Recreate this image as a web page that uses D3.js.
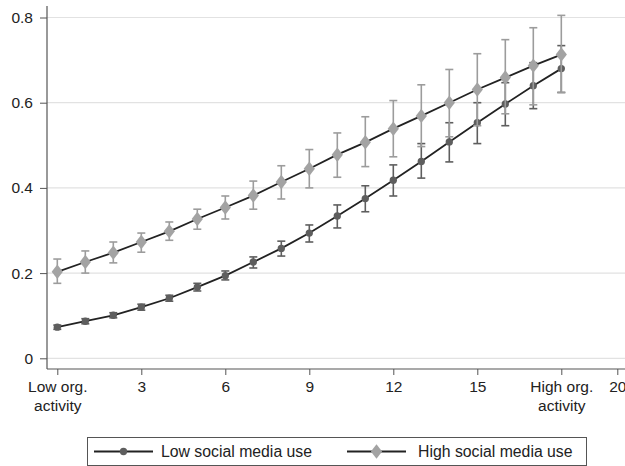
<!DOCTYPE html>
<html>
<head>
<meta charset="utf-8">
<script src="https://cdn.jsdelivr.net/npm/d3@7"></script>
<style>
  body { margin: 0; background: #fff; }
  svg { display: block; font-family: "Liberation Sans", Arial, sans-serif; }
</style>
</head>
<body>
<div id="chart"></div>
<script>
// org. activity levels 0..18
var activity = d3.range(0, 19);

// low social media use: estimate, lower CI, upper CI
var lowEst = [0.073, 0.087, 0.101, 0.120, 0.141, 0.167, 0.194, 0.226, 0.258, 0.294, 0.334, 0.375, 0.418, 0.462, 0.508, 0.553, 0.597, 0.640, 0.680];
var lowLo  = [0.068, 0.081, 0.095, 0.113, 0.134, 0.158, 0.184, 0.212, 0.240, 0.273, 0.306, 0.344, 0.381, 0.423, 0.461, 0.504, 0.546, 0.586, 0.624];
var lowHi  = [0.078, 0.093, 0.107, 0.127, 0.148, 0.176, 0.205, 0.238, 0.275, 0.313, 0.360, 0.405, 0.454, 0.504, 0.553, 0.600, 0.647, 0.694, 0.734];

// high social media use
var highEst = [0.203, 0.226, 0.248, 0.273, 0.298, 0.327, 0.354, 0.382, 0.414, 0.445, 0.478, 0.507, 0.539, 0.569, 0.600, 0.631, 0.659, 0.687, 0.713];
var highLo  = [0.176, 0.200, 0.224, 0.249, 0.277, 0.303, 0.327, 0.350, 0.374, 0.400, 0.425, 0.450, 0.473, 0.497, 0.520, 0.546, 0.574, 0.595, 0.624];
var highHi  = [0.233, 0.252, 0.273, 0.294, 0.320, 0.350, 0.381, 0.416, 0.452, 0.490, 0.529, 0.567, 0.605, 0.642, 0.678, 0.715, 0.748, 0.776, 0.805];

var xTicks = [0, 3, 6, 9, 12, 15, 18, 20];
var xTickLabels = {0: ["Low org.", "activity"], 18: ["High org.", "activity"]};
var yTicks = [0, 0.2, 0.4, 0.6, 0.8];
var seriesNames = ["Low social media use", "High social media use"];

var W = 625, H = 466;
var svg = d3.select("#chart").append("svg")
  .attr("width", W)
  .attr("height", H);

var x = d3.scaleLinear().domain([0, 20]).range([57.3, 617.3]);
var y = d3.scaleLinear().domain([0, 0.8]).range([358.3, 17.5]);

var axisX0 = 47, axisY0 = 369;

// gridlines
svg.append("g")
  .selectAll("line")
  .data(yTicks)
  .enter()
  .append("line")
  .attr("x1", axisX0)
  .attr("x2", W)
  .attr("y1", function (d) { return y(d); })
  .attr("y2", function (d) { return y(d); })
  .attr("stroke", "#e2e2e2")
  .attr("stroke-width", 1.2);

// y axis
var yAxis = svg.append("g")
  .attr("transform", "translate(" + axisX0 + ",0)")
  .call(d3.axisLeft(y).tickValues(yTicks).tickSize(7).tickPadding(7)
    .tickFormat(function (d) { return d === 0 ? "0" : d3.format(".1f")(d); }));
yAxis.select(".domain").remove();
yAxis.append("line")
  .attr("x1", 0).attr("x2", 0)
  .attr("y1", 6).attr("y2", axisY0)
  .attr("stroke", "#555").attr("stroke-width", 1.2);
yAxis.selectAll(".tick line").attr("stroke", "#555");
yAxis.selectAll(".tick text")
  .attr("fill", "#222")
  .style("font-size", "15.5px");

// x axis
var xAxis = svg.append("g")
  .attr("transform", "translate(0," + axisY0 + ")")
  .call(d3.axisBottom(x).tickValues(xTicks).tickSize(6).tickPadding(6)
    .tickFormat(function (d) { return xTickLabels[d] ? "" : d; }));
xAxis.select(".domain").remove();
xAxis.append("line")
  .attr("x1", axisX0).attr("x2", W)
  .attr("y1", 0).attr("y2", 0)
  .attr("stroke", "#555").attr("stroke-width", 1.2);
xAxis.selectAll(".tick line").attr("stroke", "#555");
xAxis.selectAll(".tick text")
  .attr("fill", "#222")
  .style("font-size", "15.5px");
xAxis.selectAll(".tick")
  .filter(function (d) { return xTickLabels[d]; })
  .select("text")
  .each(function (d) {
    var t = d3.select(this).text(null);
    xTickLabels[d].forEach(function (s, i) {
      t.append("tspan")
        .attr("x", 0)
        .attr("dy", i === 0 ? "0.71em" : "1.23em")
        .text(s);
    });
  });

function drawSeries(est, lo, hi, barColor, markColor, shape) {
  var g = svg.append("g");
  var pts = activity.map(function (a, i) { return { x: a, y: est[i], lo: lo[i], hi: hi[i] }; });

  // error bars
  g.selectAll("line.err")
    .data(pts)
    .enter()
    .append("line")
    .attr("class", "err")
    .attr("x1", function (d) { return x(d.x); })
    .attr("x2", function (d) { return x(d.x); })
    .attr("y1", function (d) { return y(d.lo); })
    .attr("y2", function (d) { return y(d.hi); })
    .attr("stroke", barColor)
    .attr("stroke-width", 1.6);
  ["lo", "hi"].forEach(function (k) {
    g.selectAll("line.cap" + k)
      .data(pts)
      .enter()
      .append("line")
      .attr("class", "cap" + k)
      .attr("x1", function (d) { return x(d.x) - 4; })
      .attr("x2", function (d) { return x(d.x) + 4; })
      .attr("y1", function (d) { return y(d[k]); })
      .attr("y2", function (d) { return y(d[k]); })
      .attr("stroke", barColor)
      .attr("stroke-width", 1.6);
  });

  // connecting line
  g.append("path")
    .datum(pts)
    .attr("d", d3.line().x(function (d) { return x(d.x); }).y(function (d) { return y(d.y); }))
    .attr("fill", "none")
    .attr("stroke", "#222")
    .attr("stroke-width", 1.8);

  // markers
  g.selectAll("path.mark")
    .data(pts)
    .enter()
    .append("path")
    .attr("class", "mark")
    .attr("d", d3.symbol().type(shape).size(shape === d3.symbolDiamond ? 60 : 42))
    .attr("transform", function (d) {
      return "translate(" + x(d.x) + "," + y(d.y) + ")" + (shape === d3.symbolDiamond ? " scale(1.35,1)" : "");
    })
    .attr("fill", markColor);
}

drawSeries(lowEst, lowLo, lowHi, "#5e5e5e", "#5e5e5e", d3.symbolCircle);
drawSeries(highEst, highLo, highHi, "#9c9c9c", "#a3a3a3", d3.symbolDiamond);

// legend
var leg = svg.append("g");
leg.append("rect")
  .attr("x", 87.5).attr("y", 437.5)
  .attr("width", 499).attr("height", 28)
  .attr("fill", "#fff")
  .attr("stroke", "#555")
  .attr("stroke-width", 1);

var legItems = [
  { name: seriesNames[0], x0: 94, x1: 153, color: "#5e5e5e", shape: d3.symbolCircle, tx: 161 },
  { name: seriesNames[1], x0: 347, x1: 406, color: "#a3a3a3", shape: d3.symbolDiamond, tx: 418 }
];
legItems.forEach(function (it) {
  var cy = 451.5;
  leg.append("line")
    .attr("x1", it.x0).attr("x2", it.x1)
    .attr("y1", cy).attr("y2", cy)
    .attr("stroke", "#222").attr("stroke-width", 1.8);
  leg.append("path")
    .attr("d", d3.symbol().type(it.shape).size(it.shape === d3.symbolDiamond ? 60 : 42))
    .attr("transform", "translate(" + ((it.x0 + it.x1) / 2) + "," + cy + ")" + (it.shape === d3.symbolDiamond ? " scale(1.35,1)" : ""))
    .attr("fill", it.color);
  leg.append("text")
    .attr("x", it.tx).attr("y", cy)
    .attr("dy", "0.36em")
    .attr("fill", "#222")
    .style("font-size", "15.8px")
    .text(it.name);
});
</script>
</body>
</html>
